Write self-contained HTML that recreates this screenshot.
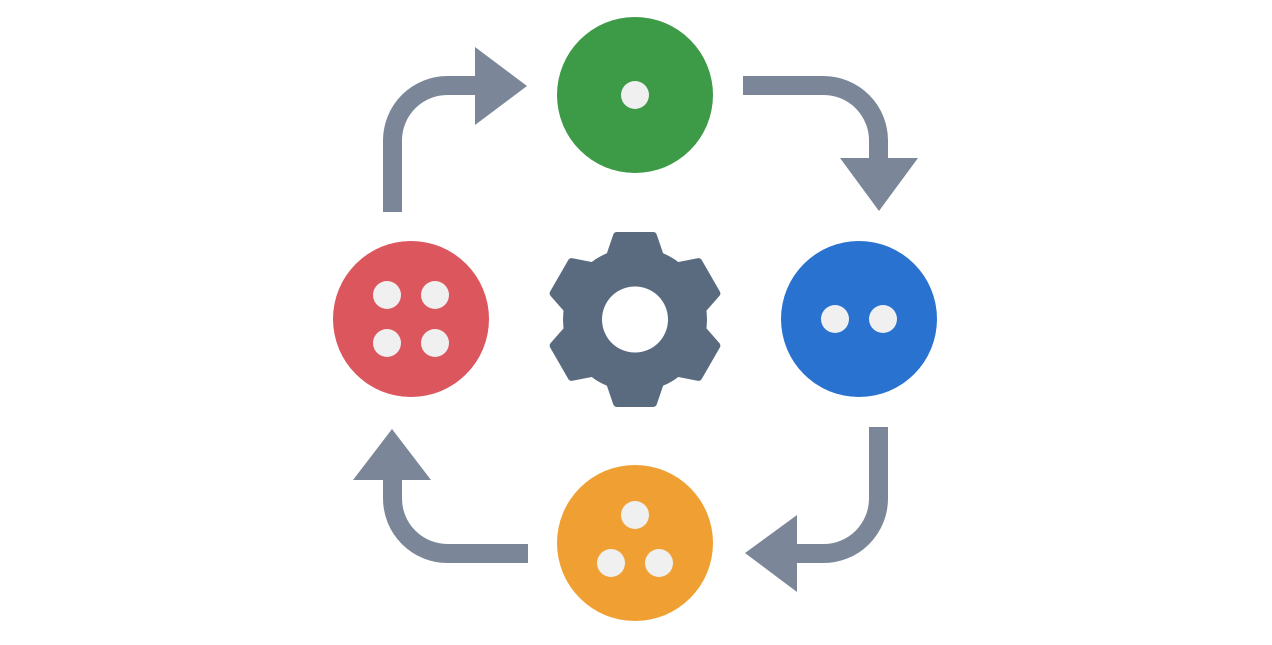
<!DOCTYPE html>
<html><head><style>html,body{margin:0;padding:0;background:#fff}</style></head>
<body>
<svg width="1272" height="640" viewBox="0 0 1272 640" xmlns="http://www.w3.org/2000/svg">
<g fill="none" stroke="#7b8798" stroke-width="19">
<path d="M392.5 212 V140 A55 55 0 0 1 447.5 85.5 H478"/>
<path d="M743 85.5 H824 A55 55 0 0 1 878.5 140.5 V160"/>
<path d="M878.5 427 V499 A55 55 0 0 1 823.5 553.5 H795"/>
<path d="M528 553.5 H447.5 A55 55 0 0 1 392.5 498.5 V478"/>
</g>
<g fill="#7b8798">
<polygon points="475,47 527,86 475,125"/>
<polygon points="840,158 918,158 879,211"/>
<polygon points="797,515 745,553 797,592"/>
<polygon points="353,480 392,429 431,480"/>
</g>
<circle cx="635" cy="95" r="78" fill="#3d9a47"/>
<circle cx="859" cy="319" r="78" fill="#2a72d0"/>
<circle cx="411" cy="319" r="78" fill="#dc565d"/>
<circle cx="635" cy="543" r="78" fill="#f0a032"/>
<g fill="#f0f0f0">
<circle cx="635" cy="95" r="14"/>
<circle cx="835" cy="319" r="14"/><circle cx="883" cy="319" r="14"/>
<circle cx="387" cy="295" r="14"/><circle cx="435" cy="295" r="14"/>
<circle cx="387" cy="343" r="14"/><circle cx="435" cy="343" r="14"/>
<circle cx="635" cy="515" r="14"/><circle cx="611" cy="563" r="14"/><circle cx="659" cy="563" r="14"/>
</g>
<g transform="translate(635,319.5)" fill="#5a6b7f" stroke="#5a6b7f" stroke-width="8" stroke-linejoin="round">
<circle r="69" stroke="none" fill="#5a6b7f" transform="scale(1)"/>
<circle r="72" stroke="none"/>
<polygon points="-18,-83.5 18,-83.5 26,-60 -26,-60"/>
<polygon points="-18,-83.5 18,-83.5 26,-60 -26,-60" transform="rotate(60)"/>
<polygon points="-18,-83.5 18,-83.5 26,-60 -26,-60" transform="rotate(120)"/>
<polygon points="-18,-83.5 18,-83.5 26,-60 -26,-60" transform="rotate(180)"/>
<polygon points="-18,-83.5 18,-83.5 26,-60 -26,-60" transform="rotate(240)"/>
<polygon points="-18,-83.5 18,-83.5 26,-60 -26,-60" transform="rotate(300)"/>
<circle r="33" fill="#fff" stroke="none"/>
</g>
</svg>
</body></html>
